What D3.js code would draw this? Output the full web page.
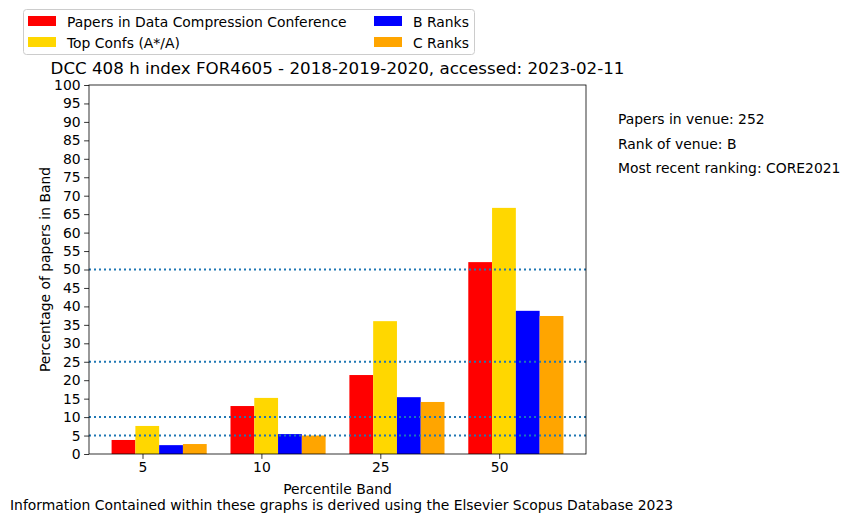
<!DOCTYPE html>
<html lang="en">
<head>
<meta charset="utf-8">
<title>DCC 408 h index</title>
<script src="https://d3js.org/d3.v7.min.js"></script>
<style>
    body { margin: 0; background: #fff; }
    svg text { font-family: "DejaVu Sans", sans-serif; fill: #000; }
</style>
</head>
<body>
<svg class="chart" width="850" height="520"></svg>
<script>
// data
var bands = ["5", "10", "25", "50"];
var seriesNames = ["Papers in Data Compression Conference", "Top Confs (A*/A)", "B Ranks", "C Ranks"];
var seriesColors = ["red", "gold", "blue", "orange"];
var venueValues = [3.8, 13.0, 21.4, 52.0];
var topValues = [7.6, 15.2, 36.0, 66.7];
var bValues = [2.4, 5.4, 15.4, 38.8];
var cValues = [2.7, 5.0, 14.1, 37.4];
var refLines = [5, 10, 25, 50];
var yTicks = d3.range(0, 101, 5);
var sideNotes = ["Papers in venue: 252", "Rank of venue: B", "Most recent ranking: CORE2021"];

var series = [venueValues, topValues, bValues, cValues];

var svg = d3.select(".chart");

var plot = {left: 89, right: 586, top: 85, bottom: 454};
var barW = 0.2;

var x = d3.scaleLinear().domain([-0.45, 3.73]).range([plot.left, plot.right]);
var y = d3.scaleLinear().domain([0, 100]).range([plot.bottom, plot.top]);

// bars
series.forEach(function (vals, s) {
    svg.append("g").selectAll("rect")
        .data(vals)
        .enter().append("rect")
        .attr("x", function (d, i) { return x(i - 0.26 + s * barW); })
        .attr("width", x(barW) - x(0))
        .attr("y", function (d) { return y(d); })
        .attr("height", function (d) { return y(0) - y(d); })
        .attr("fill", seriesColors[s]);
});

// dotted reference lines
svg.append("g").selectAll("line")
    .data(refLines)
    .enter().append("line")
    .attr("x1", plot.left).attr("x2", plot.right)
    .attr("y1", function (d) { return y(d); })
    .attr("y2", function (d) { return y(d); })
    .attr("stroke", "#1f77b4")
    .attr("stroke-width", 2)
    .attr("stroke-dasharray", "2,3");

// axes
var yAxis = d3.axisLeft(y).tickValues(yTicks).tickSize(4.9).tickPadding(3.5);
var gy = svg.append("g").attr("transform", "translate(" + plot.left + ",0)").call(yAxis);

var xAxis = d3.axisBottom(x).tickValues(d3.range(bands.length))
    .tickFormat(function (d) { return bands[d]; }).tickSize(4.9).tickPadding(3.5);
var gx = svg.append("g").attr("transform", "translate(0," + plot.bottom + ")").call(xAxis);

[gx, gy].forEach(function (g) {
    g.select(".domain").remove();
    g.selectAll("line").attr("stroke", "#000").attr("stroke-width", 0.8);
    g.selectAll("text").style("font-size", "13.9px").style("font-family", "DejaVu Sans");
});

svg.append("rect")
    .attr("x", plot.left).attr("y", plot.top)
    .attr("width", plot.right - plot.left).attr("height", plot.bottom - plot.top)
    .attr("fill", "none").attr("stroke", "#000").attr("stroke-width", 0.8);

// titles and labels
svg.append("text")
    .attr("x", (plot.left + plot.right) / 2).attr("y", 74)
    .attr("text-anchor", "middle").style("font-size", "16.7px")
    .text("DCC 408 h index FOR4605 - 2018-2019-2020, accessed: 2023-02-11");

svg.append("text")
    .attr("x", (plot.left + plot.right) / 2).attr("y", 493.5)
    .attr("text-anchor", "middle").style("font-size", "13.9px")
    .text("Percentile Band");

svg.append("text")
    .attr("transform", "translate(50," + (plot.top + plot.bottom) / 2 + ") rotate(-90)")
    .attr("text-anchor", "middle").style("font-size", "13.9px")
    .text("Percentage of papers in Band");

svg.append("text")
    .attr("x", 10).attr("y", 509.5).style("font-size", "13.9px")
    .text("Information Contained within these graphs is derived using the Elsevier Scopus Database 2023");

svg.append("g").selectAll("text")
    .data(sideNotes)
    .enter().append("text")
    .attr("x", 618)
    .attr("y", function (d, i) { return 124 + i * 24.5; })
    .style("font-size", "13.9px")
    .text(function (d) { return d; });

// legend
var legend = svg.append("g");
legend.append("rect")
    .attr("x", 23.5).attr("y", 9.5).attr("width", 451).attr("height", 45)
    .attr("rx", 3).attr("fill", "#fff").attr("fill-opacity", 0.8)
    .attr("stroke", "#ccc").attr("stroke-width", 1);

var items = legend.selectAll("g.item")
    .data(seriesNames)
    .enter().append("g")
    .attr("class", "item")
    .attr("transform", function (d, i) {
        var col = Math.floor(i / 2), row = i % 2;
        return "translate(" + (28 + col * 346) + "," + (16 + row * 21) + ")";
    });
items.append("rect")
    .attr("width", 28).attr("height", 10)
    .attr("fill", function (d, i) { return seriesColors[i]; });
items.append("text")
    .attr("x", 39).attr("y", 10.5)
    .style("font-size", "13.9px")
    .text(function (d) { return d; });
</script>
</body>
</html>
